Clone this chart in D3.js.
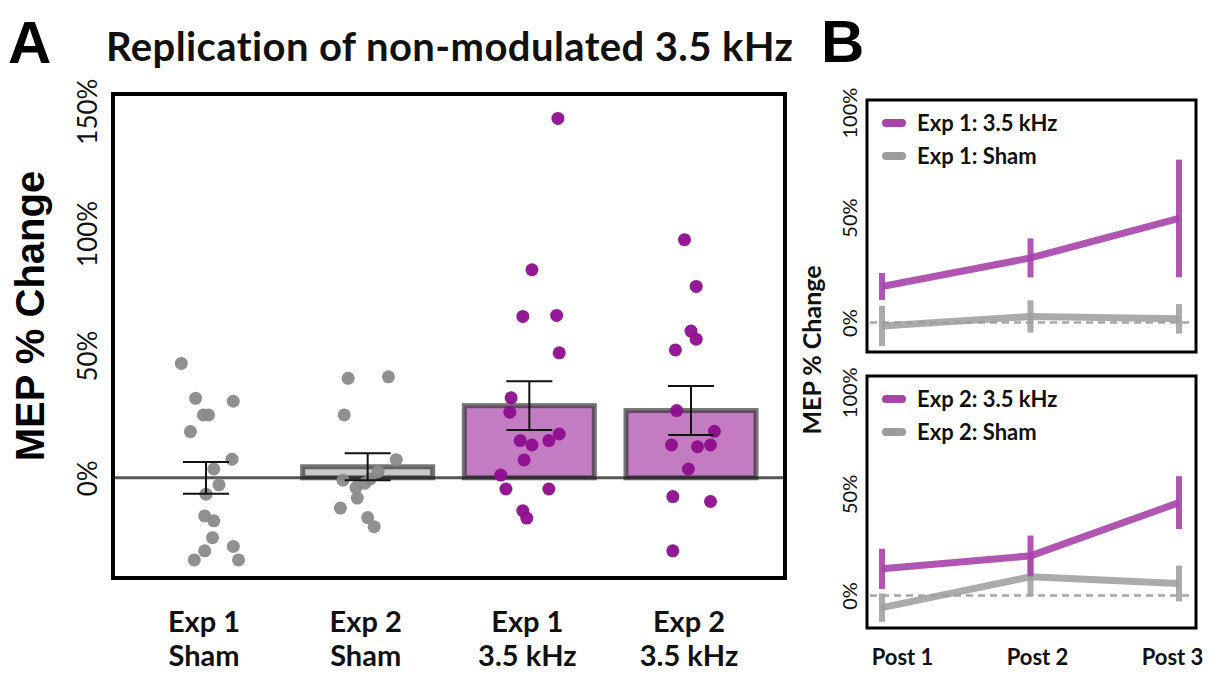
<!DOCTYPE html>
<html>
<head>
<meta charset="utf-8">
<script src="https://d3js.org/d3.v7.min.js"></script>
<style>
  body { margin: 0; background: #ffffff; }
  .font { font-family: Lato, "Open Sans", sans-serif; font-weight: bold; fill: #111111; }
  .arial { font-family: "Liberation Sans", Arial, sans-serif; font-weight: bold; fill: #000000; }
  .axis path, .axis line { display: none; }
</style>
</head>
<body>
<script>
const WIDTH = 1211;
const HEIGHT = 674;

// ---- panel A data ----
const GROUP_LINE1 = ["Exp 1", "Exp 2", "Exp 1", "Exp 2"];
const GROUP_LINE2 = ["Sham", "Sham", "3.5 kHz", "3.5 kHz"];
const GROUP_KIND = ["sham", "sham", "khz", "khz"];
const BAR_MEAN = [0, 4.5, 29.5, 27.5];
const BAR_SEM = [6.5, 5.5, 10, 10];
const Y_TICKS_A = [0, 50, 100, 150];

// individual subjects (% change) and their horizontal jitter (fraction of bar width)
const PTS_EXP1_SHAM = [46.8, 32.5, 31.3, 25.7, 25.7, 18.9, 7.6, 3.6, -2.9, -6.7, -15.6, -17.6, -24.5, -29.9, -28.1, -33.6, -33.6];
const JIT_EXP1_SHAM = [-0.19, -0.08, 0.21, -0.02, 0.02, -0.12, 0.2, 0.06, 0.1, 0, -0.01, 0.06, 0.05, -0.01, 0.21, -0.09, 0.25];
const PTS_EXP2_SHAM = [40.7, 41.3, 25.7, 7.4, 2.5, -1, -2.2, -4, -0.5, -8.3, -12.4, -16.3, -20];
const JIT_EXP2_SHAM = [-0.15, 0.16, -0.18, 0.22, 0.08, -0.19, -0.02, -0.09, 0.02, -0.08, -0.21, 0, 0.05];
const PTS_EXP1_KHZ = [147, 85.1, 66, 66.4, 51.1, 32.7, 26.8, 17.9, 15.2, 13.4, 15.2, 7.3, 1.1, -4.6, -4.6, -13.5, -16.5];
const JIT_EXP1_KHZ = [0.22, 0.02, -0.05, 0.21, 0.23, -0.14, -0.15, 0.23, -0.07, 0.02, 0.15, -0.04, -0.22, -0.18, 0.15, -0.05, -0.02];
const PTS_EXP2_KHZ = [97.4, 78.3, 60, 56.7, 52.3, 27.5, 19, 13.4, 12.7, 13.4, 3.6, -7.7, -9.7, -29.9];
const JIT_EXP2_KHZ = [-0.05, 0.04, 0, 0.04, -0.12, -0.11, 0.18, -0.15, 0.05, 0.15, -0.02, -0.14, 0.15, -0.14];
const POINTS = [PTS_EXP1_SHAM, PTS_EXP2_SHAM, PTS_EXP1_KHZ, PTS_EXP2_KHZ];
const JITTER = [JIT_EXP1_SHAM, JIT_EXP2_SHAM, JIT_EXP1_KHZ, JIT_EXP2_KHZ];

// ---- panel B data ----
const TIMEPOINTS = ["Post 1", "Post 2", "Post 3"];
const Y_TICKS_B = [0, 50, 100];
const EXP1_KHZ_MEAN = [17.2, 30.8, 49.6];
const EXP1_KHZ_ERR = [6.4, 9.3, 28];
const EXP1_SHAM_MEAN = [-1.6, 2.9, 1.8];
const EXP1_SHAM_ERR = [9.6, 7.7, 7];
const EXP2_KHZ_MEAN = [13.1, 19.5, 45.7];
const EXP2_KHZ_ERR = [9.9, 10, 13];
const EXP2_SHAM_MEAN = [-6, 9.2, 5.9];
const EXP2_SHAM_ERR = [7, 9.4, 8.8];

const PURPLE_DOT = "#8e0d8e";
const GREY_DOT = "#8a8a8a";
const PURPLE_FILL = "#c37cc2";
const GREY_FILL = "#c8c8c8";
const PURPLE_LINE = "#a743a9";
const GREY_LINE = "#9c9c9c";

var svg = d3.select("body").append("svg")
    .attr("width", WIDTH)
    .attr("height", HEIGHT);

// ================= PANEL A =================
const A_LEFT = 113, A_RIGHT = 785, A_TOP = 94, A_BOTTOM = 578;
const BAR_W = 130;

var xA = d3.scalePoint()
    .domain(d3.range(GROUP_KIND.length))
    .range([206, 691]);
var yA = d3.scaleLinear()
    .domain([-41, 157])
    .range([A_BOTTOM, A_TOP]);

svg.append("text")
    .attr("x", 8).attr("y", 63)
    .classed("arial", true)
    .style("font-size", "60px")
    .text("A");

svg.append("text")
    .attr("x", 106).attr("y", 61)
    .classed("font", true)
    .style("font-size", "40px")
    .style("letter-spacing", "0.4px")
    .text("Replication of non-modulated 3.5 kHz");

svg.append("text")
    .attr("transform", "translate(44," + 316 + ") rotate(-90)")
    .attr("text-anchor", "middle")
    .classed("arial", true)
    .style("font-size", "40px")
    .text("MEP % Change");

// y axis A
var yAxisA = d3.axisLeft(yA)
    .tickValues(Y_TICKS_A)
    .tickSize(0)
    .tickFormat(function(d) { return d + "%"; });
var yAxisAGroup = svg.append("g")
    .classed("axis", true)
    .attr("transform", "translate(" + A_LEFT + ",0)")
    .call(yAxisA);
yAxisAGroup.selectAll("text")
    .attr("transform", "rotate(-90)")
    .attr("x", 0).attr("y", -16).attr("dy", 0)
    .attr("text-anchor", "middle")
    .classed("font", true)
    .style("font-size", "26px")
    .style("font-weight", "normal")
    .style("fill", "#111");

// bars
var barIdx = d3.range(GROUP_KIND.length);
svg.selectAll(".bar")
    .data(barIdx)
    .enter()
    .append("rect")
    .classed("bar", true)
    .attr("x", function(i) { return xA(i) - BAR_W / 2; })
    .attr("width", BAR_W)
    .attr("y", function(i) { return yA(Math.max(0, BAR_MEAN[i])); })
    .attr("height", function(i) { return Math.abs(yA(BAR_MEAN[i]) - yA(0)); })
    .attr("fill", function(i) { return GROUP_KIND[i] === "khz" ? PURPLE_FILL : GREY_FILL; })
    .attr("stroke", "rgba(50,50,50,0.68)")
    .attr("stroke-width", 5);

// zero line
svg.append("line")
    .attr("x1", A_LEFT).attr("x2", A_RIGHT)
    .attr("y1", yA(0)).attr("y2", yA(0))
    .attr("stroke", "rgba(30,30,30,0.75)")
    .attr("stroke-width", 3);

// points
barIdx.forEach(function(g) {
    var pts = POINTS[g].map(function(v, k) { return {v: v, j: JITTER[g][k]}; });
    svg.selectAll(".pt" + g)
        .data(pts)
        .enter()
        .append("circle")
        .attr("cx", function(d) { return xA(g) + d.j * BAR_W; })
        .attr("cy", function(d) { return yA(d.v); })
        .attr("r", 6.5)
        .attr("fill", GROUP_KIND[g] === "khz" ? PURPLE_DOT : GREY_DOT)
        .attr("fill-opacity", 0.95);
});

// error bars A
var errA = svg.append("g")
    .attr("stroke", "#111")
    .attr("stroke-width", 2);
barIdx.forEach(function(i) {
    var x = xA(i), lo = yA(BAR_MEAN[i] - BAR_SEM[i]), hi = yA(BAR_MEAN[i] + BAR_SEM[i]);
    errA.append("line").attr("x1", x).attr("x2", x).attr("y1", lo).attr("y2", hi);
    errA.append("line").attr("x1", x - 23).attr("x2", x + 23).attr("y1", lo).attr("y2", lo);
    errA.append("line").attr("x1", x - 23).attr("x2", x + 23).attr("y1", hi).attr("y2", hi);
});

// frame A
svg.append("rect")
    .attr("x", A_LEFT).attr("y", A_TOP)
    .attr("width", A_RIGHT - A_LEFT).attr("height", A_BOTTOM - A_TOP)
    .attr("fill", "none")
    .attr("stroke", "#000")
    .attr("stroke-width", 4);

// category labels
var catLabels = svg.selectAll(".cat")
    .data(barIdx)
    .enter()
    .append("text")
    .classed("font", true)
    .attr("text-anchor", "middle")
    .style("font-size", "29px");
catLabels.append("tspan")
    .attr("x", function(i) { return xA(i) - 2; })
    .attr("y", 632)
    .text(function(i) { return GROUP_LINE1[i]; });
catLabels.append("tspan")
    .attr("x", function(i) { return xA(i) - 2; })
    .attr("y", 666)
    .text(function(i) { return GROUP_LINE2[i]; });

// ================= PANEL B =================
svg.append("text")
    .attr("x", 821).attr("y", 62)
    .classed("arial", true)
    .style("font-size", "60px")
    .text("B");

svg.append("text")
    .attr("transform", "translate(821,350) rotate(-90)")
    .attr("text-anchor", "middle")
    .classed("font", true)
    .style("font-size", "25px")
    .text("MEP % Change");

var xB = d3.scalePoint().domain(TIMEPOINTS).range([882, 1179]);

var panelsB = [
    {top: 100, bottom: 352, domain: [-14, 106], exp: "Exp 1",
     khz: EXP1_KHZ_MEAN, khzErr: EXP1_KHZ_ERR, sham: EXP1_SHAM_MEAN, shamErr: EXP1_SHAM_ERR},
    {top: 376, bottom: 628, domain: [-16, 108], exp: "Exp 2",
     khz: EXP2_KHZ_MEAN, khzErr: EXP2_KHZ_ERR, sham: EXP2_SHAM_MEAN, shamErr: EXP2_SHAM_ERR}
];
const B_LEFT = 867, B_RIGHT = 1196;

panelsB.forEach(function(p) {
    var y = d3.scaleLinear().domain(p.domain).range([p.bottom, p.top]);

    var yAx = svg.append("g")
        .classed("axis", true)
        .attr("transform", "translate(" + B_LEFT + ",0)")
        .call(d3.axisLeft(y).tickValues(Y_TICKS_B).tickSize(0)
            .tickFormat(function(d) { return d + "%"; }));
    yAx.selectAll("text")
        .attr("transform", "rotate(-90)")
        .attr("x", 0).attr("y", -10).attr("dy", 0)
        .attr("text-anchor", "middle")
        .classed("font", true)
        .style("font-size", "20px")
        .style("font-weight", "normal")
        .style("fill", "#111");

    // dashed zero line
    svg.append("line")
        .attr("x1", B_LEFT + 3).attr("x2", B_RIGHT - 3)
        .attr("y1", y(0)).attr("y2", y(0))
        .attr("stroke", "#a8a8a8")
        .attr("stroke-width", 2.5)
        .attr("stroke-dasharray", "7,5");

    var series = [
        {mean: p.sham, err: p.shamErr, color: GREY_LINE, op: 0.85},
        {mean: p.khz, err: p.khzErr, color: PURPLE_LINE, op: 0.9}
    ];
    series.forEach(function(s) {
        var line = d3.line()
            .x(function(d, i) { return xB(TIMEPOINTS[i]); })
            .y(function(d) { return y(d); });
        svg.append("path")
            .datum(s.mean)
            .attr("d", line)
            .attr("fill", "none")
            .attr("stroke", s.color)
            .attr("stroke-opacity", s.op)
            .attr("stroke-width", 7)
            .attr("stroke-linejoin", "round");
        svg.selectAll(null)
            .data(s.mean)
            .enter()
            .append("line")
            .attr("x1", function(d, i) { return xB(TIMEPOINTS[i]); })
            .attr("x2", function(d, i) { return xB(TIMEPOINTS[i]); })
            .attr("y1", function(d, i) { return y(d - s.err[i]); })
            .attr("y2", function(d, i) { return y(d + s.err[i]); })
            .attr("stroke", s.color)
            .attr("stroke-opacity", s.op)
            .attr("stroke-width", 6);
    });

    // legend
    var legend = [
        {label: p.exp + ": 3.5 kHz", color: PURPLE_LINE},
        {label: p.exp + ": Sham", color: GREY_LINE}
    ];
    legend.forEach(function(l, k) {
        var ly = p.top + 23 + k * 33;
        svg.append("line")
            .attr("x1", 886).attr("x2", 902)
            .attr("y1", ly).attr("y2", ly)
            .attr("stroke", l.color)
            .attr("stroke-width", 8)
            .attr("stroke-linecap", "round");
        svg.append("text")
            .attr("x", 917).attr("y", ly + 8)
            .classed("font", true)
            .style("font-size", "22px")
            .text(l.label);
    });

    svg.append("rect")
        .attr("x", B_LEFT).attr("y", p.top)
        .attr("width", B_RIGHT - B_LEFT).attr("height", p.bottom - p.top)
        .attr("fill", "none")
        .attr("stroke", "#000")
        .attr("stroke-width", 3);
});

// x axis labels B
var xBLabel = d3.scalePoint().domain(TIMEPOINTS).range([902, 1172]);
var xAxB = svg.append("g")
    .classed("axis", true)
    .attr("transform", "translate(0,645)")
    .call(d3.axisBottom(xBLabel).tickSize(0));
xAxB.selectAll("text")
    .attr("y", 20).attr("dy", 0)
    .classed("font", true)
    .style("font-size", "22px")
    .style("fill", "#111");
</script>
</body>
</html>
